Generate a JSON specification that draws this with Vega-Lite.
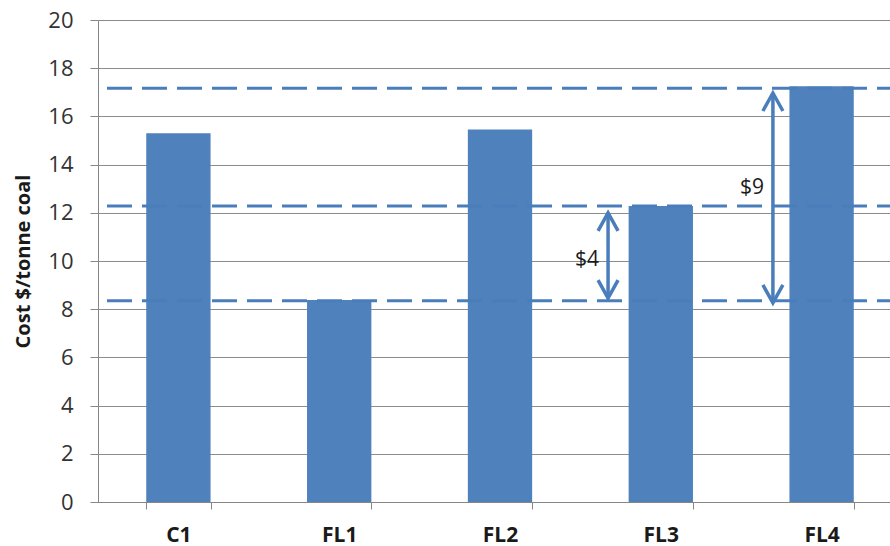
{
  "$schema": "https://vega.github.io/schema/vega-lite/v6.json",
  "width": 804,
  "height": 482,
  "autosize": {"type": "none"},
  "padding": {"left": 98, "top": 20, "right": 0, "bottom": 44},
  "background": "white",
  "config": {
    "view": {"stroke": null},
    "font": "Open Sans",
    "axisY": {
      "titleFont": "Open Sans",
      "titleFontSize": 20,
      "titleFontWeight": "bold",
      "titleColor": "#1a1a1a",
      "titlePadding": 14,
      "labelFont": "Open Sans",
      "labelFontSize": 22,
      "labelColor": "#333333",
      "labelPadding": 17,
      "ticks": true,
      "tickSize": 8,
      "tickColor": "#868686",
      "domainColor": "#868686",
      "grid": true,
      "gridColor": "#8c8c8c",
      "gridWidth": 1
    },
    "axisX": {
      "labelAngle": 0,
      "labelFont": "Open Sans",
      "labelFontSize": 21,
      "labelFontWeight": "bold",
      "labelColor": "#1a1a1a",
      "domainColor": "#868686",
      "ticks": true,
      "tickColor": "#868686",
      "tickSize": 7,
      "tickBand": "extent",
      "labelPadding": 15,
      "grid": false
    }
  },
  "datasets": {
    "bars": [
      {"cat": "C1", "cost": 15.3},
      {"cat": "FL1", "cost": 8.38},
      {"cat": "FL2", "cost": 15.46},
      {"cat": "FL3", "cost": 12.28},
      {"cat": "FL4", "cost": 17.25}
    ],
    "levels": [
      {"level": 17.17},
      {"level": 12.28},
      {"level": 8.35}
    ],
    "arrows": [
      {"cat": "FL3", "lo": 8.46, "hi": 12.0, "label": "$4", "labelY": 10.04},
      {"cat": "FL4", "lo": 8.26, "hi": 16.97, "label": "$9", "labelY": 13.03}
    ]
  },
  "encoding": {
    "x": {
      "field": "cat",
      "type": "nominal",
      "sort": ["C1", "FL1", "FL2", "FL3", "FL4"],
      "scale": {"domain": ["C1", "FL1", "FL2", "FL3", "FL4"], "paddingInner": 0.6, "paddingOuter": 0.3},
      "axis": {"title": null}
    }
  },
  "layer": [
    {
      "data": {"name": "bars"},
      "mark": {"type": "bar", "color": "#4f81bd"},
      "encoding": {
        "y": {
          "field": "cost",
          "type": "quantitative",
          "scale": {"domain": [0, 20], "nice": false},
          "axis": {
            "title": "Cost $/tonne coal",
            "values": [0, 2, 4, 6, 8, 10, 12, 14, 16, 18, 20]
          }
        }
      }
    },
    {
      "data": {"name": "levels"},
      "mark": {"type": "rule", "color": "#4a7ebb", "strokeWidth": 3, "strokeDash": [25, 10]},
      "encoding": {
        "x": null,
        "y": {"field": "level", "type": "quantitative"}
      }
    },
    {
      "data": {"name": "arrows"},
      "transform": [{"filter": "datum.cat === 'FL3'"}],
      "encoding": {
        "x": {"field": "cat", "type": "nominal", "bandPosition": -0.32}
      },
      "layer": [
        {
          "mark": {"type": "rule", "color": "#4a7ebb", "strokeWidth": 3.5},
          "encoding": {
            "y": {"field": "lo", "type": "quantitative"},
            "y2": {"field": "hi"}
          }
        },
        {
          "mark": {"type": "point", "shape": "M-0.5,0.9L0,0L0.5,0.9", "filled": false, "stroke": "#4a7ebb", "strokeWidth": 3.5, "size": 1600, "opacity": 1},
          "encoding": {"y": {"field": "hi", "type": "quantitative"}}
        },
        {
          "mark": {"type": "point", "shape": "M-0.5,-0.9L0,0L0.5,-0.9", "filled": false, "stroke": "#4a7ebb", "strokeWidth": 3.5, "size": 1600, "opacity": 1},
          "encoding": {"y": {"field": "lo", "type": "quantitative"}}
        },
        {
          "mark": {"type": "text", "align": "right", "baseline": "middle", "dx": -9, "font": "Open Sans", "fontSize": 21, "color": "#1a1a1a"},
          "encoding": {
            "y": {"field": "labelY", "type": "quantitative"},
            "text": {"field": "label"}
          }
        }
      ]
    },
    {
      "data": {"name": "arrows"},
      "transform": [{"filter": "datum.cat === 'FL4'"}],
      "encoding": {
        "x": {"field": "cat", "type": "nominal", "bandPosition": -0.257}
      },
      "layer": [
        {
          "mark": {"type": "rule", "color": "#4a7ebb", "strokeWidth": 3.5},
          "encoding": {
            "y": {"field": "lo", "type": "quantitative"},
            "y2": {"field": "hi"}
          }
        },
        {
          "mark": {"type": "point", "shape": "M-0.5,0.9L0,0L0.5,0.9", "filled": false, "stroke": "#4a7ebb", "strokeWidth": 3.5, "size": 1600, "opacity": 1},
          "encoding": {"y": {"field": "hi", "type": "quantitative"}}
        },
        {
          "mark": {"type": "point", "shape": "M-0.5,-0.9L0,0L0.5,-0.9", "filled": false, "stroke": "#4a7ebb", "strokeWidth": 3.5, "size": 1600, "opacity": 1},
          "encoding": {"y": {"field": "lo", "type": "quantitative"}}
        },
        {
          "mark": {"type": "text", "align": "right", "baseline": "middle", "dx": -9, "font": "Open Sans", "fontSize": 21, "color": "#1a1a1a"},
          "encoding": {
            "y": {"field": "labelY", "type": "quantitative"},
            "text": {"field": "label"}
          }
        }
      ]
    }
  ]
}
